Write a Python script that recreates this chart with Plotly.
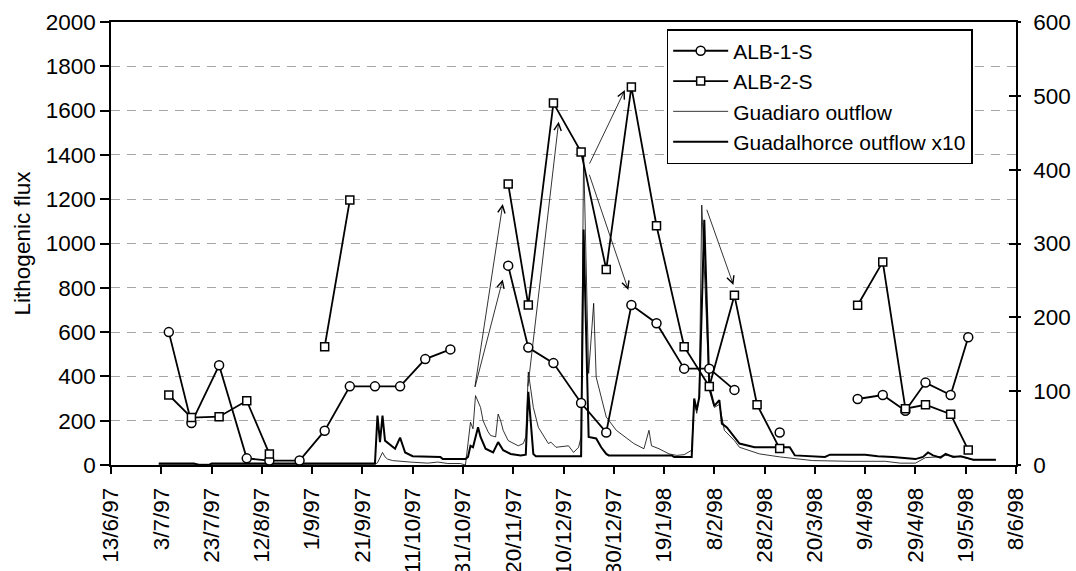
import plotly.graph_objects as go

# ---------------- data ----------------
sample_dates = ["1997-07-06", "1997-07-15", "1997-07-26", "1997-08-06", "1997-08-15", "1997-08-27",
                "1997-09-06", "1997-09-16", "1997-09-26", "1997-10-06", "1997-10-16", "1997-10-26",
                "1997-11-06", "1997-11-18", "1997-11-26", "1997-12-06", "1997-12-17", "1997-12-27",
                "1998-01-06", "1998-01-16", "1998-01-27", "1998-02-06", "1998-02-16", "1998-02-25",
                "1998-03-06", "1998-03-20", "1998-04-06", "1998-04-16", "1998-04-25", "1998-05-03",
                "1998-05-13", "1998-05-20"]
alb1_flux = [600, 190, 450, 30, 20, 20, 155, 355, 355, 355, 478, 522, None, 900, 530, 460, 280, 147,
             722, 640, 435, 435, 339, None, 147, None, 298, 316, 245, 372, 316, 577]
alb2_flux = [316, 214, 218, 290, 50, None, 534, 1196, None, None, None, None, None, 1269, 722, 1634,
             1413, 883, 1707, 1080, 534, 354, 766, 272, 74, None, 721, 917, 254, 272, 229, 68]

guadalhorce_dates = ["1997-07-02", "1997-07-16", "1997-07-18", "1997-07-22", "1997-07-23", "1997-09-26",
                     "1997-09-27", "1997-09-28", "1997-09-29", "1997-09-30", "1997-10-04", "1997-10-06",
                     "1997-10-08", "1997-10-11", "1997-10-22", "1997-10-23", "1997-11-01", "1997-11-02",
                     "1997-11-03", "1997-11-04", "1997-11-06", "1997-11-07", "1997-11-09", "1997-11-12",
                     "1997-11-14", "1997-11-16", "1997-11-19", "1997-11-23", "1997-11-25", "1997-11-26",
                     "1997-11-28", "1997-11-29", "1997-12-17", "1997-12-18", "1997-12-20", "1997-12-23",
                     "1997-12-25", "1997-12-27", "1997-12-28", "1998-01-22", "1998-01-23", "1998-01-30",
                     "1998-01-31", "1998-02-01", "1998-02-02", "1998-02-04", "1998-02-06", "1998-02-08",
                     "1998-02-10", "1998-02-11", "1998-02-13", "1998-02-16", "1998-02-18", "1998-02-24",
                     "1998-03-10", "1998-03-12", "1998-03-24", "1998-03-26", "1998-04-09", "1998-04-14",
                     "1998-04-20", "1998-04-29", "1998-05-02", "1998-05-04", "1998-05-06", "1998-05-09",
                     "1998-05-11", "1998-05-14", "1998-05-17", "1998-05-22", "1998-05-31"]
guadalhorce_x10 = [2, 2, 0, 0, 2, 2,
                   67, 31, 67, 33, 22, 37,
                   17, 12, 11, 8, 8, 11,
                   26, 24, 51, 38, 22, 17,
                   31, 20, 15, 13, 14, 99,
                   15, 12, 12, 319, 38, 36,
                   24, 15, 13, 13, 11, 11,
                   90, 74, 92, 332, 106, 80,
                   88, 56, 51, 38, 29, 24,
                   24, 13, 11, 14, 14, 12,
                   11, 8, 11, 17, 13, 10,
                   15, 11, 12, 7, 7]

guadiaro_dates = ["1997-07-02", "1997-09-26", "1997-09-27", "1997-09-29", "1997-09-30", "1997-10-01",
                  "1997-10-03", "1997-10-06", "1997-10-10", "1997-10-17", "1997-10-21", "1997-10-25",
                  "1997-10-30", "1997-11-01", "1997-11-03", "1997-11-04", "1997-11-05", "1997-11-07",
                  "1997-11-08", "1997-11-10", "1997-11-11", "1997-11-13", "1997-11-14", "1997-11-15",
                  "1997-11-16", "1997-11-18", "1997-11-20", "1997-11-22", "1997-11-24", "1997-11-25",
                  "1997-11-26", "1997-11-28", "1997-11-30", "1997-12-04", "1997-12-05", "1997-12-07",
                  "1997-12-12", "1997-12-14", "1997-12-16", "1997-12-17", "1997-12-18", "1997-12-20",
                  "1997-12-22", "1997-12-23", "1997-12-27", "1997-12-31", "1998-01-07", "1998-01-11",
                  "1998-01-13", "1998-01-14", "1998-01-17", "1998-01-21", "1998-01-24", "1998-01-27",
                  "1998-01-30", "1998-01-31", "1998-02-01", "1998-02-02", "1998-02-03", "1998-02-06",
                  "1998-02-08", "1998-02-10", "1998-02-12", "1998-02-16", "1998-02-18", "1998-02-26",
                  "1998-03-06", "1998-03-14", "1998-03-19", "1998-04-03", "1998-04-17", "1998-04-23",
                  "1998-04-29", "1998-05-03", "1998-05-08", "1998-05-11", "1998-05-17", "1998-05-22",
                  "1998-05-31"]
guadiaro_outflow = [1, 1, 3, 17, 11, 8,
                    6, 5, 4, 2.5, 4, 2,
                    2, 0, 58, 49, 94, 78,
                    60, 45, 40, 38, 69, 60,
                    47, 33, 29, 26, 29, 38,
                    126, 78, 51, 29, 31, 24,
                    26, 17, 24, 38, 422, 124,
                    219, 119, 65, 47, 29, 22,
                    47, 26, 22, 15, 13, 14,
                    20, 88, 70, 95, 352, 101,
                    78, 82, 47, 33, 24, 15,
                    11, 8, 6, 5, 5, 2.5,
                    2.5, 10, 11, 13, 11, 7,
                    7]

tick_dates = ["1997-06-13", "1997-07-03", "1997-07-23", "1997-08-12", "1997-09-01", "1997-09-21",
              "1997-10-11", "1997-10-31", "1997-11-20", "1997-12-10", "1997-12-30", "1998-01-19",
              "1998-02-08", "1998-02-28", "1998-03-20", "1998-04-09", "1998-04-29", "1998-05-19",
              "1998-06-08"]
tick_labels = ["13/6/97", "3/7/97", "23/7/97", "12/8/97", "1/9/97", "21/9/97", "11/10/97", "31/10/97",
               "20/11/97", "10/12/97", "30/12/97", "19/1/98", "8/2/98", "28/2/98", "20/3/98", "9/4/98",
               "29/4/98", "19/5/98", "8/6/98"]

# arrows: (start date, start flux, end date, end flux) on the left axis
arrows = [
    ("1997-11-04 16:00", 346, "1997-11-15 20:00", 1178),
    ("1997-11-04 16:00", 346, "1997-11-15 20:00", 838),
    ("1997-11-25 19:00", 348, "1997-12-08 02:00", 1550),
    ("1997-12-20 02:00", 1354, "1998-01-03 10:00", 1693),
    ("1997-12-20 02:00", 1317, "1998-01-04 19:00", 790),
    ("1998-02-04 19:00", 1159, "1998-02-15 14:00", 813),
]

FONT = "Arial, 'Liberation Sans', sans-serif"

fig = go.Figure()

fig.add_trace(go.Scatter(x=guadiaro_dates, y=guadiaro_outflow, mode="lines",
                         line=dict(color="black", width=0.8), name="Guadiaro outflow",
                         yaxis="y", legendrank=3))
fig.add_trace(go.Scatter(x=guadalhorce_dates, y=guadalhorce_x10, mode="lines",
                         line=dict(color="black", width=2), name="Guadalhorce outflow x10",
                         yaxis="y", legendrank=4))
fig.add_trace(go.Scatter(x=[], y=[], yaxis="y3", showlegend=False, hoverinfo="skip"))
fig.add_trace(go.Scatter(x=sample_dates, y=alb1_flux, mode="lines+markers", name="ALB-1-S",
                         line=dict(color="black", width=1.8),
                         marker=dict(symbol="circle", size=9, color="white",
                                     line=dict(color="black", width=1.5)),
                         yaxis="y2", legendrank=1))
fig.add_trace(go.Scatter(x=sample_dates, y=alb2_flux, mode="lines+markers", name="ALB-2-S",
                         line=dict(color="black", width=1.8),
                         marker=dict(symbol="square", size=8, color="white",
                                     line=dict(color="black", width=1.5)),
                         yaxis="y2", legendrank=2))

annotations = []
for x0, y0, x1, y1 in arrows:
    annotations.append(dict(x=x1, y=y1, ax=x0, ay=y0, xref="x", yref="y2", axref="x", ayref="y2",
                            text="", showarrow=True, arrowhead=5, arrowsize=1.8, arrowwidth=0.8,
                            arrowcolor="black", standoff=0, startstandoff=0))

fig.update_layout(
    width=1076, height=571,
    margin=dict(l=111, r=60, t=22, b=106, pad=0),
    paper_bgcolor="white", plot_bgcolor="white",
    font=dict(family=FONT, size=22.5, color="black"),
    showlegend=True,
    legend=dict(x=0.614, y=0.984, xanchor="left", yanchor="top", bgcolor="white",
                bordercolor="black", borderwidth=1.5, font=dict(size=21), tracegroupgap=0,
                itemwidth=55, entrywidth=270, entrywidthmode="pixels"),
    xaxis=dict(type="date", range=["1997-06-13", "1998-06-08"], tickmode="array",
               tickvals=tick_dates, ticktext=tick_labels, tickangle=-90,
               ticks="outside", ticklen=7, tickwidth=1.5, tickcolor="black",
               showline=True, linewidth=1.5, linecolor="black", mirror=True,
               showgrid=False, zeroline=False, automargin=False, ticklabelstandoff=5),
    yaxis=dict(range=[0, 600], side="right", tickmode="linear", tick0=0, dtick=100,
               ticks="outside", ticklen=3, tickwidth=1.5, tickcolor="black",
               showline=True, linewidth=1.5, linecolor="black", showgrid=False,
               zeroline=False, automargin=False, ticklabelstandoff=8),
    yaxis2=dict(range=[0, 2000], side="left", overlaying="y", tickmode="linear", tick0=0, dtick=200,
                ticks="outside", ticklen=9, tickwidth=1.5, tickcolor="black",
                showline=True, linewidth=1.5, linecolor="black",
                showgrid=True, gridcolor="#a6a6a6", gridwidth=1, griddash="9px,7px",
                zeroline=False, automargin=False,
                title=dict(text="Lithogenic flux", font=dict(size=22.5), standoff=9)),
    yaxis3=dict(range=[0, 600], side="right", overlaying="y", tickmode="linear", tick0=0, dtick=100,
                ticks="inside", ticklen=7, tickwidth=1.5, tickcolor="black",
                showline=False, showticklabels=False, showgrid=False, zeroline=False,
                automargin=False),
    annotations=annotations,
)

fig.write_html("out.html")
